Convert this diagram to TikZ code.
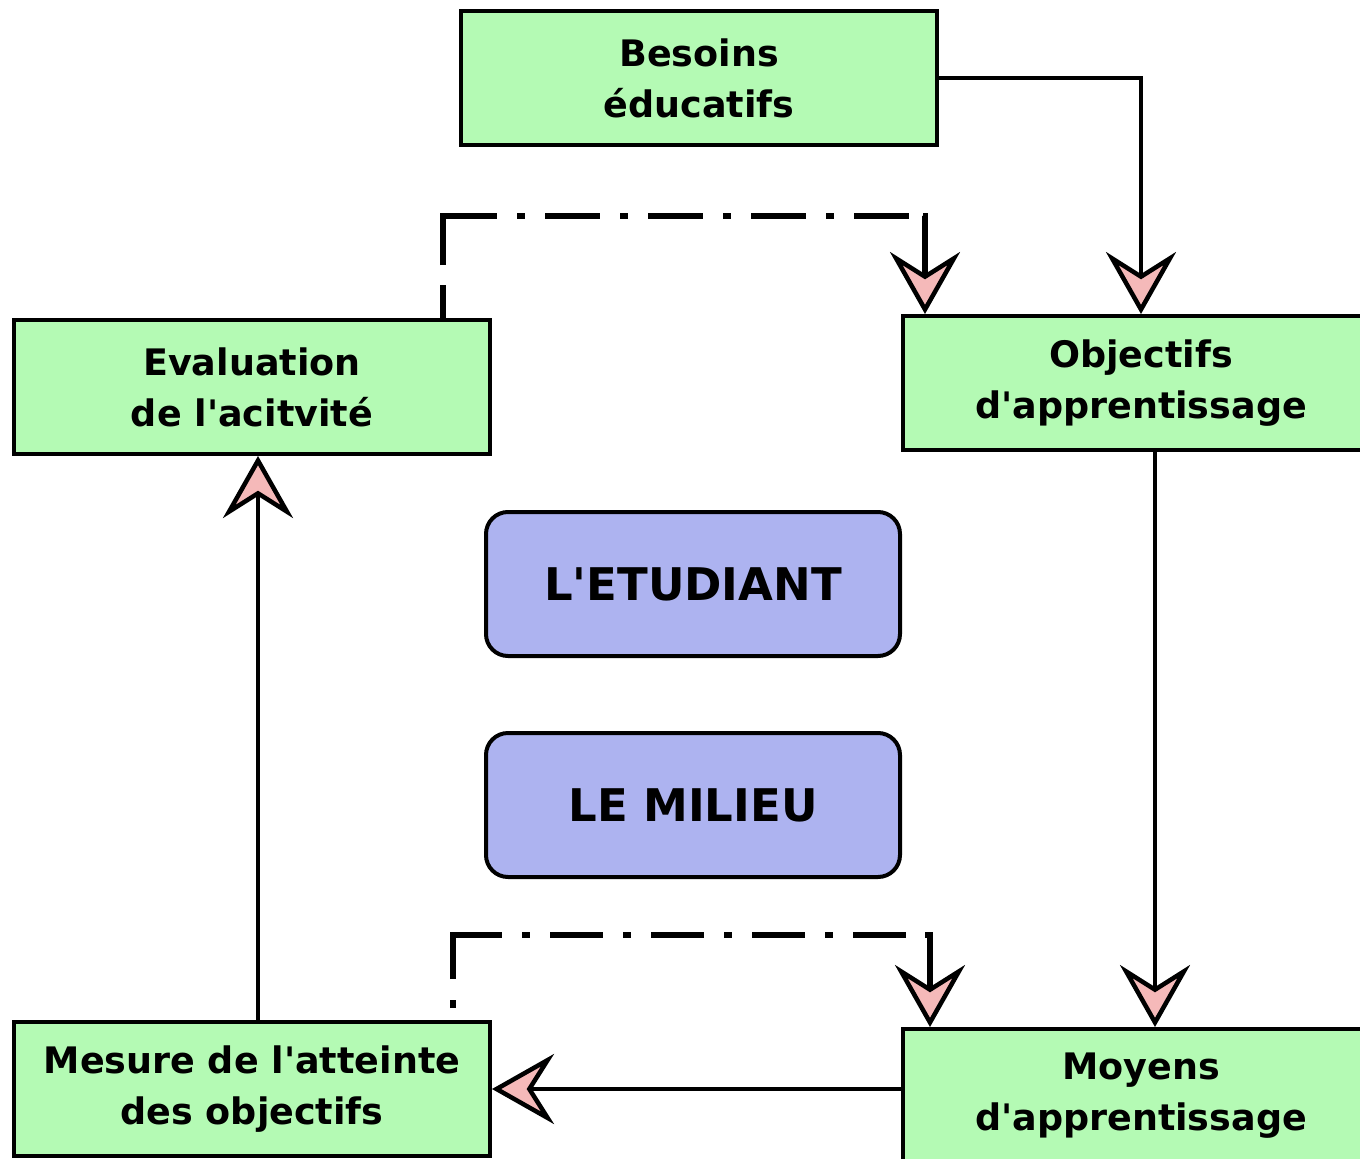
\documentclass[tikz,border=0pt]{standalone}
\usepackage{fontspec}
\newfontfamily\boxfont{DejaVu Sans}
\usetikzlibrary{arrows.meta}
\definecolor{boxgreen}{RGB}{180,250,180}
\definecolor{boxblue}{RGB}{173,179,240}
\definecolor{tippink}{RGB}{245,185,185}

\tikzset{
  greenbox/.style={draw, line width=4pt, fill=boxgreen, minimum width=476pt, minimum height=134pt,
    align=center, font=\boxfont\bfseries\fontsize{36.5}{51}\selectfont},
  bluebox/.style={draw, line width=4pt, fill=boxblue, rounded corners=22pt, minimum width=414pt,
    minimum height=144pt, font=\boxfont\bfseries\fontsize{45}{50}\selectfont},
  flow/.style={line width=4.5pt, -{Stealth[length=62pt,width=70pt,inset=22pt,line width=4.5pt,fill=tippink]}},
  loopback/.style={flow, line width=6pt}
}

\begin{document}
\begin{tikzpicture}[x=1pt,y=-1pt]
\useasboundingbox (0,0) rectangle (1360,1159);
\clip (0,0) rectangle (1360,1159);

% boxes
\node[greenbox] (needs) at (699,78) {Besoins\\éducatifs};
\node[greenbox] (eval) at (252,387) {Evaluation\\de l'acitvité};
\node[greenbox] (goals) at (1141,383) {Objectifs\\d'apprentissage};
\node[greenbox] (means) at (1141,1096) {Moyens\\d'apprentissage};
\node[greenbox] (measure) at (252,1089) {Mesure de l'atteinte\\des objectifs};
\node[bluebox] (student) at (693,584) {L'ETUDIANT};
\node[bluebox] (milieu) at (693,805) {LE MILIEU};

% main loop
\draw[flow] (needs.east) -| (goals.north);
\draw[flow] ([xshift=14pt]goals.south) -- ([xshift=14pt]goals.south |- means.north);
\draw[flow] (means.west |- measure.east) -- (measure.east);
\draw[flow] ([xshift=6pt]measure.north) -- ([xshift=6pt]eval.south);

% feedback
\draw[loopback, dash pattern=on 33pt off 20pt on 103pt off 20pt on 8pt off 20pt on 55pt off 20pt
  on 8pt off 20pt on 55pt off 20pt on 8pt off 20pt on 55pt off 20pt on 8pt off 20pt on 55pt
  off 14pt on 200pt off 1pt]
  ([xshift=191pt]eval.north) -- ++(0,-102) -| ([xshift=-216pt]goals.north);
\draw[loopback, dash pattern=on 0pt off 12pt on 8pt off 21pt on 93pt off 20pt on 8pt off 20pt
  on 53pt off 20pt on 8pt off 20pt on 53pt off 20pt on 8pt off 20pt on 53pt off 20pt on 8pt
  off 20pt on 53pt off 19pt on 200pt off 1pt]
  ([xshift=201pt]measure.north) -- ++(0,-85) -| ([xshift=-211pt]means.north);
\end{tikzpicture}
\end{document}
